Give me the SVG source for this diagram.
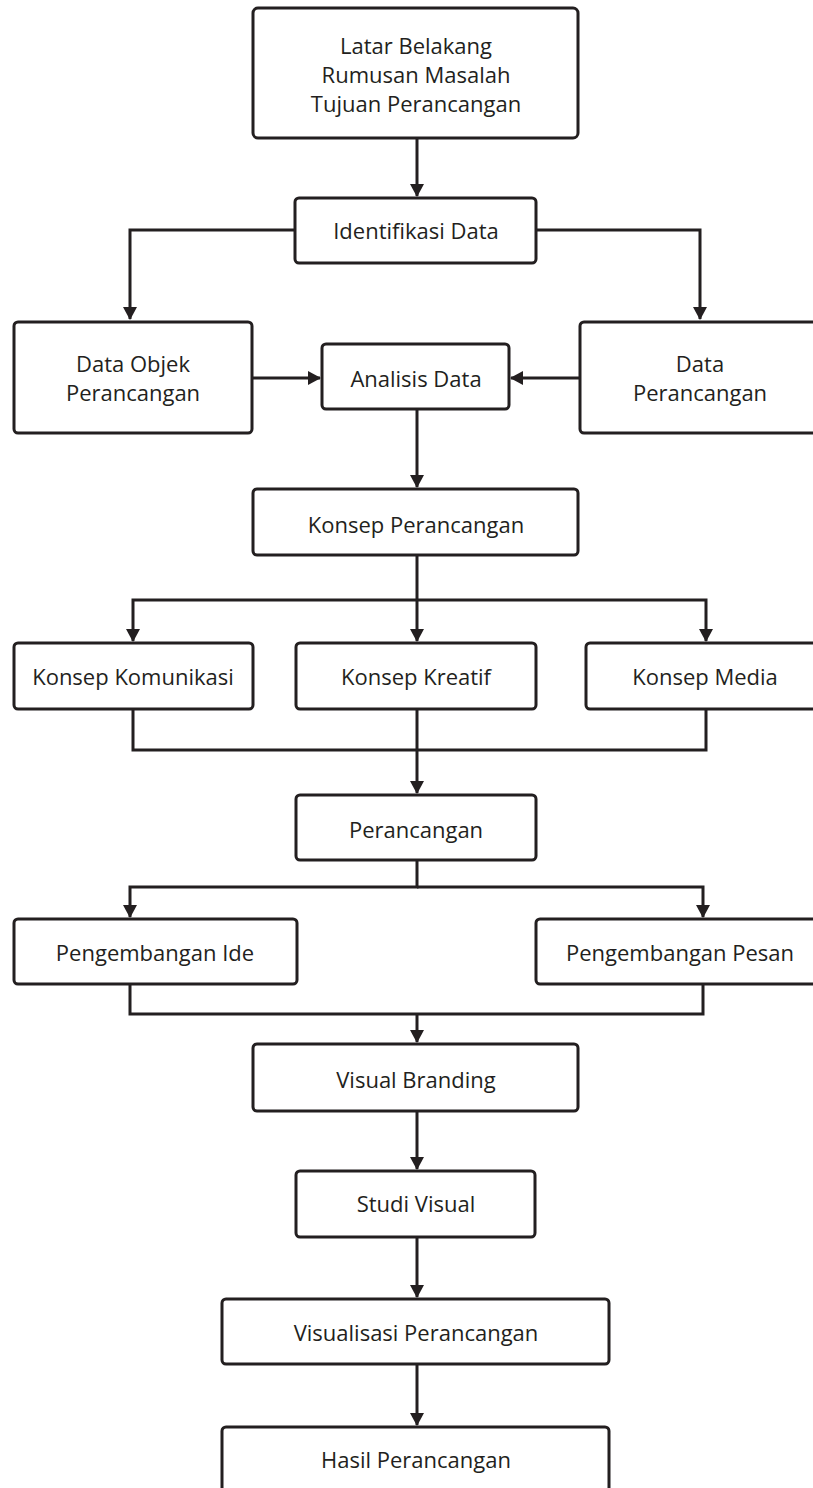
<svg xmlns="http://www.w3.org/2000/svg" width="813" height="1488" viewBox="0 0 813 1488">
<style>
.box{fill:#fff;stroke:#231f20;stroke-width:3}
.t{font-family:"Open Sans","Noto Sans",sans-serif;font-size:22px;fill:#231f20;text-anchor:middle;dominant-baseline:central}
.c{fill:none;stroke:#231f20;stroke-width:3}
</style>
<defs>
<marker id="ah" markerUnits="userSpaceOnUse" markerWidth="14" markerHeight="14" refX="12" refY="7" orient="auto">
<path d="M0,0 L13,7 L0,14 z" fill="#231f20"/>
</marker>
</defs>
<rect width="813" height="1488" fill="#fff"/>
<g id="connectors">
<path class="c" d="M417,138 V196" marker-end="url(#ah)"/>
<path class="c" d="M295,230 H130 V319" marker-end="url(#ah)"/>
<path class="c" d="M536,230 H700 V319" marker-end="url(#ah)"/>
<path class="c" d="M253,378 H320" marker-end="url(#ah)"/>
<path class="c" d="M580,378 H511" marker-end="url(#ah)"/>
<path class="c" d="M417,409 V487" marker-end="url(#ah)"/>
<path class="c" d="M417,555 V641" marker-end="url(#ah)"/>
<path class="c" d="M417,600 H133 V641" marker-end="url(#ah)"/>
<path class="c" d="M417,600 H706 V641" marker-end="url(#ah)"/>
<path class="c" d="M133,709 V750 H706 V709"/>
<path class="c" d="M417,709 V793" marker-end="url(#ah)"/>
<path class="c" d="M417,860 V887 H130 V917" marker-end="url(#ah)"/>
<path class="c" d="M417,887 H703 V917" marker-end="url(#ah)"/>
<path class="c" d="M130,984 V1014 H703 V984"/>
<path class="c" d="M417,1014 V1042" marker-end="url(#ah)"/>
<path class="c" d="M417,1111 V1169" marker-end="url(#ah)"/>
<path class="c" d="M417,1237 V1297" marker-end="url(#ah)"/>
<path class="c" d="M417,1364 V1425" marker-end="url(#ah)"/>
</g>
<g id="n1"><rect class="box" x="253" y="8" width="325" height="130" rx="5"/>
<text class="t" x="416" y="45">Latar Belakang</text>
<text class="t" x="416" y="74">Rumusan Masalah</text>
<text class="t" x="416" y="103">Tujuan Perancangan</text></g>
<g id="n2"><rect class="box" x="295" y="198" width="241" height="65" rx="4"/><text class="t" x="416" y="230">Identifikasi Data</text></g>
<g id="n3"><rect class="box" x="14" y="322" width="238" height="111" rx="4"/>
<text class="t" x="133" y="363">Data Objek</text><text class="t" x="133" y="392">Perancangan</text></g>
<g id="n4"><rect class="box" x="322" y="344" width="187" height="65" rx="4"/><text class="t" x="416" y="378">Analisis Data</text></g>
<g id="n5"><rect class="box" x="580" y="322" width="240" height="111" rx="4"/>
<text class="t" x="700" y="363">Data</text><text class="t" x="700" y="392">Perancangan</text></g>
<g id="n6"><rect class="box" x="253" y="489" width="325" height="66" rx="4"/><text class="t" x="416" y="524">Konsep Perancangan</text></g>
<g id="n7"><rect class="box" x="14" y="643" width="239" height="66" rx="4"/><text class="t" x="133" y="676">Konsep Komunikasi</text></g>
<g id="n8"><rect class="box" x="296" y="643" width="240" height="66" rx="4"/><text class="t" x="416" y="676">Konsep Kreatif</text></g>
<g id="n9"><rect class="box" x="586" y="643" width="234" height="66" rx="4"/><text class="t" x="705" y="676">Konsep Media</text></g>
<g id="n10"><rect class="box" x="296" y="795" width="240" height="65" rx="4"/><text class="t" x="416" y="829">Perancangan</text></g>
<g id="n11"><rect class="box" x="14" y="919" width="283" height="65" rx="4"/><text class="t" x="155" y="952">Pengembangan Ide</text></g>
<g id="n12"><rect class="box" x="536" y="919" width="284" height="65" rx="4"/><text class="t" x="680" y="952">Pengembangan Pesan</text></g>
<g id="n13"><rect class="box" x="253" y="1044" width="325" height="67" rx="4"/><text class="t" x="416" y="1079">Visual Branding</text></g>
<g id="n14"><rect class="box" x="296" y="1171" width="239" height="66" rx="4"/><text class="t" x="416" y="1203">Studi Visual</text></g>
<g id="n15"><rect class="box" x="222" y="1299" width="387" height="65" rx="4"/><text class="t" x="416" y="1332">Visualisasi Perancangan</text></g>
<g id="n16"><rect class="box" x="222" y="1427" width="387" height="70" rx="4"/><text class="t" x="416" y="1459">Hasil Perancangan</text></g>
</svg>
